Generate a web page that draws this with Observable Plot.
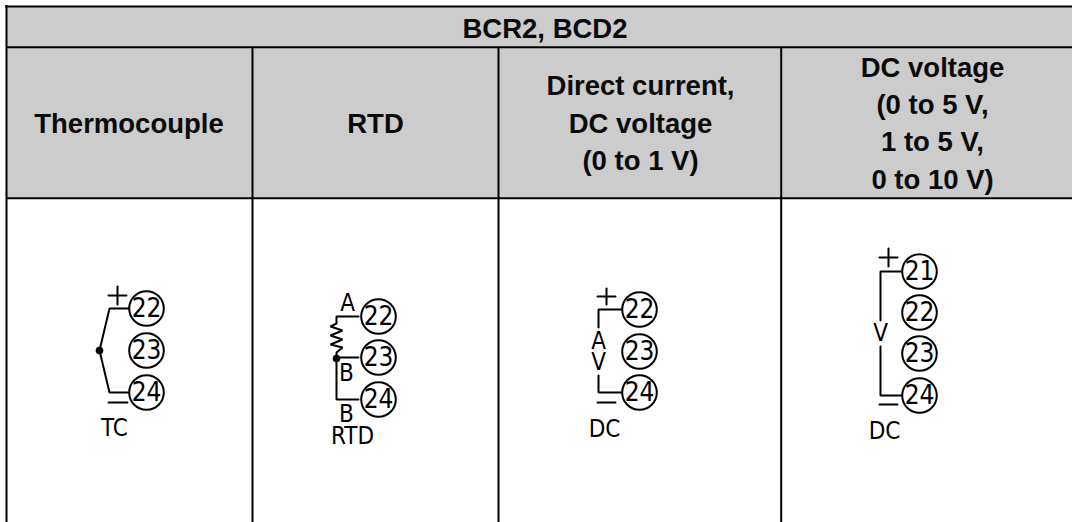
<!DOCTYPE html>
<html><head><meta charset="utf-8">
<style>html,body{margin:0;padding:0;background:#fff}svg{display:block}</style>
<script src="https://cdn.jsdelivr.net/npm/d3@7"></script>
<script src="https://cdn.jsdelivr.net/npm/@observablehq/plot@0.6"></script>
</head><body><script>
const headerFill = [{x1:6,x2:1072,y1:6,y2:198}];
const hRules = [{y:6,x1:5,x2:1072},{y:46.7,x1:6,x2:1072},{y:197.7,x1:6,x2:1072}];
const vRules = [{x:6,y1:5,y2:522},{x:252,y1:47,y2:522},{x:498,y1:47,y2:522},{x:780.7,y1:47,y2:522}];
const headers = [
  {x:544.5,y:25.5,t:"BCR2, BCD2"},
  {x:128.5,y:120.3,t:"Thermocouple"},
  {x:375,y:120.3,t:"RTD"},
  {x:640,y:120.3,t:"Direct current,\nDC voltage\n(0 to 1 V)"},
  {x:932,y:120.3,t:"DC voltage\n(0 to 5 V,\n1 to 5 V,\n0 to 10 V)"}
];
const terminals = [
  {x:146,y:308,t:"22"},{x:146,y:350,t:"23"},{x:146,y:392,t:"24"},
  {x:378,y:316,t:"22"},{x:378,y:357,t:"23"},{x:378,y:399,t:"24"},
  {x:639,y:309,t:"22"},{x:639,y:351,t:"23"},{x:639,y:392,t:"24"},
  {x:919,y:271,t:"21"},{x:919,y:312,t:"22"},{x:919,y:353,t:"23"},{x:919,y:395,t:"24"}
];
const wires = [
  [[128,308],[109,308],[99,350],[109,392],[128,392]],
  [[108,295],[126,295]],[[117,286],[117,304]],[[108,402],[127,402]],
  [[358,316],[336,316],[336,323],[330,326],[342,330],[330,335],[342,339],[330,344],[342,347],[336,352],[336,399],[358,399]],
  [[336,357],[358,357]],
  [[622,309],[598,309],[598,327]],[[598,375],[598,392],[622,392]],
  [[597,296],[615,296]],[[606,288],[606,304]],[[597,402],[615,402]],
  [[901,271],[880,271],[880,320]],[[880,346],[880,395],[901,395]],
  [[879,257],[897,257]],[[888,248],[888,266]],[[879,404],[897,404]]
];
const wireRows = wires.flatMap((w,i)=>w.map(([x,y])=>({x,y,i})));
const joints = [{x:99,y:350},{x:336,y:358}];
const labels = [
  {x:114,y:428,t:"TC"},
  {x:347,y:303,t:"A"},{x:346,y:373,t:"B"},{x:346,y:414,t:"B"},{x:352,y:436,t:"RTD"},
  {x:598,y:351.5,t:"A\nV"},{x:604,y:429,t:"DC"},
  {x:880,y:333,t:"V"},{x:884,y:431,t:"DC"}
];
const narrow = "'Liberation Sans Narrow','DejaVu Sans Condensed',sans-serif";
const plot = Plot.plot({
  width:1072,height:522,margin:0,
  x:{domain:[0,1072],range:[0,1072],axis:null},
  y:{domain:[0,522],range:[0,522],axis:null},
  style:{background:"#fff"},
  marks:[
    Plot.rect(headerFill,{x1:"x1",x2:"x2",y1:"y1",y2:"y2",fill:"#cccccc"}),
    Plot.ruleY(hRules,{y:"y",x1:"x1",x2:"x2",stroke:"#000",strokeWidth:2}),
    Plot.ruleX(vRules,{x:"x",y1:"y1",y2:"y2",stroke:"#000",strokeWidth:2}),
    Plot.text(headers,{x:"x",y:"y",text:"t",fontFamily:"'Liberation Sans',Arial,sans-serif",fontWeight:"bold",fontSize:27.5,lineHeight:1.36,fill:"#0a0a0a"}),
    Plot.line(wireRows,{x:"x",y:"y",z:"i",stroke:"#000",strokeWidth:2,curve:"linear",strokeLinejoin:"miter"}),
    Plot.dot(terminals,{x:"x",y:"y",r:17.3,stroke:"#000",strokeWidth:2,fill:"#fff"}),
    Plot.dot(joints,{x:"x",y:"y",r:3.8,fill:"#000"}),
    Plot.text(terminals,{x:"x",y:"y",dy:0.5,text:"t",fontFamily:narrow,fontSize:26,fill:"#000"}),
    Plot.text(labels,{x:"x",y:"y",dy:1,text:"t",fontFamily:narrow,fontSize:24,lineHeight:0.875,fill:"#000"})
  ]
});
document.body.appendChild(plot);
</script></body></html>
